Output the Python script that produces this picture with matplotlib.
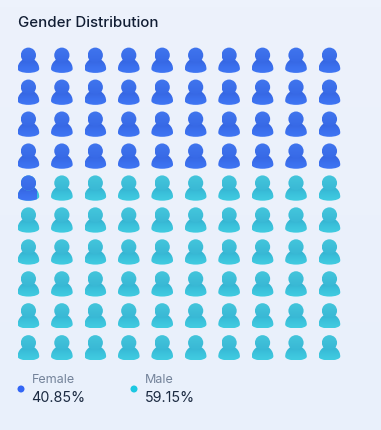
import numpy as np
import matplotlib
matplotlib.use('Agg')
import matplotlib.pyplot as plt
from matplotlib.path import Path
from matplotlib.patches import PathPatch, Circle
from matplotlib.colors import LinearSegmentedColormap

title = "Gender Distribution"
labels = ["Female", "Male"]
values = [40.85, 59.15]
value_labels = ["40.85%", "59.15%"]
dot_colors = ["#3366f5", "#1cc8e2"]
head_colors = [["#4075ee", "#3769e6"], ["#44c6dc", "#39b8d5"]]
body_colors = [["#3463dc", "#3a6eec", "#3f76f4"], ["#33afce", "#3bc1db", "#41cce1"]]

rows = 10
cols = 10
plt.rcParams['font.family'] = ['Inter', 'DejaVu Sans']


def make_cmap(colors):
    return LinearSegmentedColormap.from_list("c", colors)


# body shape around the icon centre, y goes down (pixels)
body_path = Path(
    [(0, 2.8), (-5.6, 2.8), (-10.9, 7.4), (-10.8, 13.8),
     (-10.8, 16), (-6, 17.7), (0, 17.7),
     (6, 17.7), (10.8, 16), (10.8, 13.8),
     (10.9, 7.4), (5.6, 2.8), (0, 2.8), (0, 2.8)],
    [Path.MOVETO, Path.CURVE4, Path.CURVE4, Path.CURVE4,
     Path.CURVE4, Path.CURVE4, Path.CURVE4,
     Path.CURVE4, Path.CURVE4, Path.CURVE4,
     Path.CURVE4, Path.CURVE4, Path.CURVE4, Path.CLOSEPOLY])

grad = np.linspace(0, 1, 32).reshape(-1, 1)


def draw_part(ax, cx, cy, kind, which, frac=1.0):
    if kind == "body":
        verts = body_path.vertices + [cx, cy]
        patch = PathPatch(Path(verts, body_path.codes), fc='none', ec='none')
        top, bottom, left, right = cy + 2.8, cy + 17.7, cx - 10.8, cx + 10.8
        cmap = make_cmap(body_colors[which])
    else:
        patch = Circle((cx, cy), 7.6, fc='none', ec='none')
        top, bottom, left, right = cy - 7.6, cy + 7.6, cx - 7.6, cx + 7.6
        cmap = make_cmap(head_colors[which])
    ax.add_patch(patch)
    # fraction is measured across the whole icon
    r = min(right, cx - 10.8 + 21.6 * frac)
    if r <= left:
        return
    im = ax.imshow(grad, extent=(left, r, bottom, top), cmap=cmap, aspect='auto',
                   interpolation='bilinear', zorder=3 if kind == "head" else 2)
    im.set_clip_path(patch)


def draw_icon(ax, cx, cy, which, frac=1.0):
    draw_part(ax, cx, cy, "body", which, frac)
    draw_part(ax, cx, cy, "head", which, frac)


fig = plt.figure(figsize=(3.81, 4.30), dpi=100)
ax = fig.add_axes([0, 0, 1, 1])

# soft page background
bg = np.linspace(0, 1, 64).reshape(-1, 1)
ax.imshow(bg, extent=(0, 381, 430, 0), aspect='auto', zorder=0,
          cmap=make_cmap(["#edf2fc", "#e9f0fb"]))

full = int(values[0])
part = values[0] - full
for i in range(rows * cols):
    r, c = divmod(i, cols)
    cx = 28.4 + c * 33.45
    cy = 55.2 + r * 31.95
    if i < full:
        draw_icon(ax, cx, cy, 0)
    else:
        draw_icon(ax, cx, cy, 1)
        if i == full:
            draw_icon(ax, cx, cy, 0, part)

ax.set_xlim(0, 381)
ax.set_ylim(430, 0)
ax.axis('off')

ax.text(18, 23, title, fontsize=10.8, fontweight='medium', color="#111d33",
        va='center', ha='left')

for j, x in enumerate([21, 134]):
    ax.add_patch(Circle((x, 389), 3.5, fc=dot_colors[j], ec='none', zorder=3))
    ax.text(x + 11, 380, labels[j], fontsize=9.0, color="#74839a", va='center', ha='left')
    ax.text(x + 10.5, 397.5, value_labels[j], fontsize=10.3, color="#1b2a41", va='center', ha='left')

fig.savefig("out.png", dpi=100)
